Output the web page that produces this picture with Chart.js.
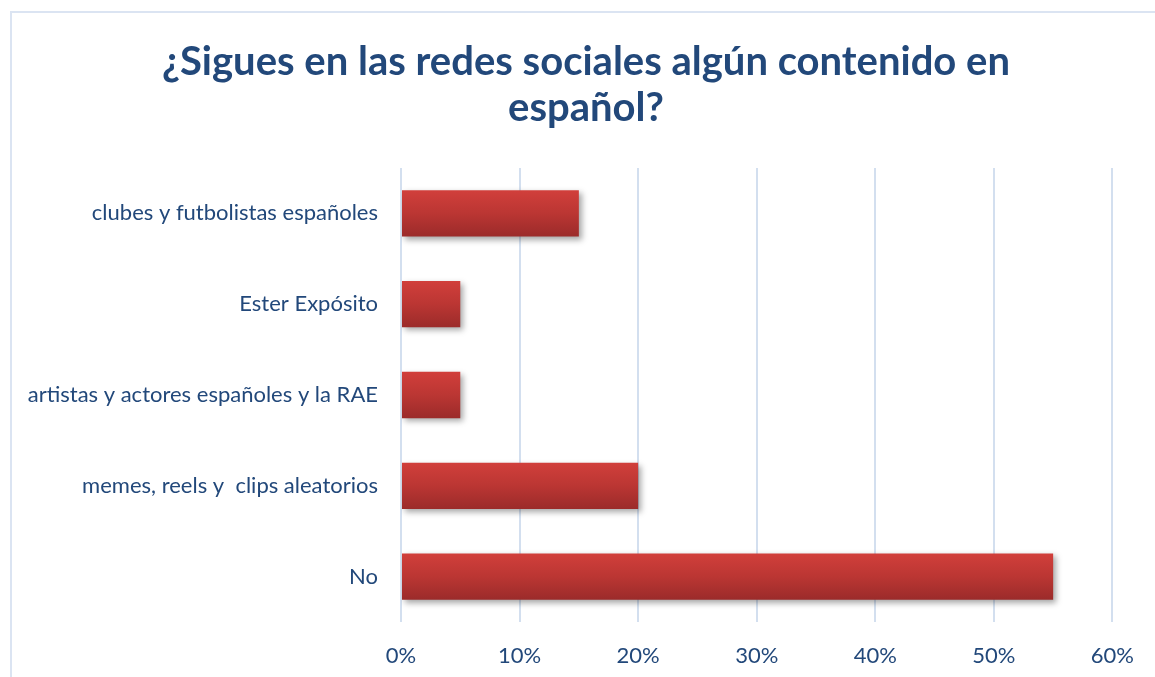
<!DOCTYPE html>
<html>
<head>
<meta charset="utf-8">
<script src="https://cdn.jsdelivr.net/npm/chart.js@4"></script>
<style>
  html, body { margin: 0; padding: 0; background: #fff; overflow: hidden; }
  #wrap { position: relative; width: 1155px; height: 677px; }
  #frame { position: absolute; left: 10px; top: 11px; width: 1300px; height: 800px; border: 2px solid #dbe4f2; box-sizing: border-box; }
  canvas { position: absolute; left: 0; top: 0; }
</style>
</head>
<body>
<div id="wrap">
  <div id="frame"></div>
  <canvas id="chart" width="1155" height="677"></canvas>
</div>
<script>
const categories = [
  'clubes y futbolistas españoles',
  'Ester Expósito',
  'artistas y actores españoles y la RAE',
  'memes, reels y  clips aleatorios',
  'No'
];
const percentValues = [15, 5, 5, 20, 55];
const titleLines = ['¿Sigues en las redes sociales algún contenido en', 'español?'];

const textColor = '#22487a';
const barPct = 0.51;

// vertical red gradient per bar, worked out from the category scale
function barGradient(c) {
  const chart = c.chart;
  const ys = chart.scales.y;
  if (!ys || !chart.chartArea) return '#bd3733';
  const yc = ys.getPixelForValue(c.dataIndex);
  const half = ys.height / categories.length * barPct / 2;
  const g = chart.ctx.createLinearGradient(0, yc - half, 0, yc + half);
  g.addColorStop(0, '#d13f3b');
  g.addColorStop(0.5, '#bb3633');
  g.addColorStop(1, '#9b2b2a');
  return g;
}

const shadowPlugin = {
  id: 'barShadow',
  beforeDatasetsDraw(chart) {
    const ctx = chart.ctx;
    ctx.save();
    ctx.shadowColor = 'rgba(0,0,0,0.35)';
    ctx.shadowBlur = 6;
    ctx.shadowOffsetX = 3;
    ctx.shadowOffsetY = 3;
  },
  afterDatasetsDraw(chart) {
    chart.ctx.restore();
  }
};

// title in the original is centred a bit right of the canvas middle
const titleShift = {
  id: 'titleShift',
  afterLayout(chart) {
    if (chart.titleBlock) chart.titleBlock.left += 49;
  }
};

new Chart(document.getElementById('chart'), {
  type: 'bar',
  data: {
    labels: categories,
    datasets: [{
      data: percentValues,
      backgroundColor: barGradient,
      borderWidth: 0,
      barPercentage: barPct,
      categoryPercentage: 1
    }]
  },
  plugins: [shadowPlugin, titleShift],
  options: {
    indexAxis: 'y',
    responsive: false,
    animation: false,
    layout: { padding: { left: 10, right: 42, top: 0, bottom: 0 } },
    plugins: {
      legend: { display: false },
      tooltip: { enabled: false },
      title: {
        display: true,
        text: titleLines,
        color: textColor,
        font: { family: 'Lato', size: 40, weight: 'bold', lineHeight: 1.15 },
        padding: { top: 39, bottom: 37 }
      }
    },
    scales: {
      x: {
        min: 0,
        max: 60,
        border: { display: false },
        grid: { color: '#d3dfef', lineWidth: 2, drawTicks: false },
        ticks: {
          stepSize: 10,
          padding: 21,
          color: textColor,
          font: { family: 'Lato', size: 22 },
          callback: v => v + '%'
        },
        afterFit(scale) { scale.height = 55; }
      },
      y: {
        border: { display: false },
        grid: { display: false, drawTicks: false },
        ticks: {
          padding: 23,
          color: textColor,
          font: { family: 'Lato', size: 22 }
        },
        afterFit(scale) { scale.width = 391; }
      }
    }
  }
});
</script>
</body>
</html>
